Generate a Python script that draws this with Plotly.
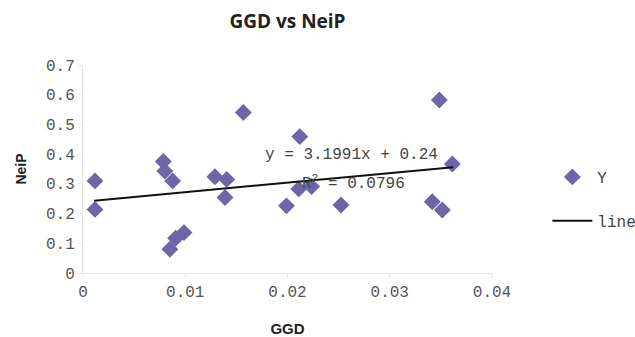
import plotly.graph_objects as go

ggd = [0.00117, 0.00117, 0.00785, 0.0080, 0.00877, 0.0085, 0.00906, 0.00988,
       0.0129, 0.01405, 0.01389, 0.01568, 0.0199, 0.0212, 0.0211, 0.02236,
       0.02523, 0.03416, 0.03485, 0.03514, 0.03612]
neip = [0.31, 0.214, 0.375, 0.343, 0.31, 0.08, 0.117, 0.136,
        0.324, 0.315, 0.254, 0.54, 0.226, 0.459, 0.283, 0.291,
        0.229, 0.24, 0.582, 0.212, 0.367]
slope = 3.1991
intercept = 0.24
r2 = 0.0796
line_x = [0.0011, 0.0362]
line_y = [slope * v + intercept for v in line_x]
x_ticks = [0, 0.01, 0.02, 0.03, 0.04]
x_ticktext = ["0", "0.01", "0.02", "0.03", "0.04"]
y_ticks = [0, 0.1, 0.2, 0.3, 0.4, 0.5, 0.6, 0.7]
y_ticktext = ["0", "0.1", "0.2", "0.3", "0.4", "0.5", "0.6", "0.7"]

mono = "Liberation Mono, Courier New, monospace"
sans = "Liberation Sans, Arial, sans-serif"
title_font = "Open Sans, Liberation Sans, sans-serif"

fig = go.Figure()
fig.add_trace(go.Scatter(x=ggd, y=neip, mode="markers", name="Y", legendgroup="a",
                         marker=dict(symbol="diamond", size=13, color="#6C66A8")))
fig.add_trace(go.Scatter(x=line_x, y=line_y, mode="lines", name="line", legendgroup="b",
                         line=dict(color="#111111", width=2)))

fig.add_annotation(x=0.0263, y=0.397, xref="x", yref="y", showarrow=False,
                   text=f"y = {slope}x + {intercept}", font=dict(family=mono, size=16, color="#444"))
fig.add_annotation(x=0.0265, y=0.306, xref="x", yref="y", showarrow=False,
                   text=f"R<sup>2</sup> = {r2}", font=dict(family=mono, size=16, color="#444"))

axis_common = dict(showgrid=False, zeroline=False, showline=True, linecolor="#e8e8e8", linewidth=1,
                   ticks="outside", ticklen=4, tickcolor="#e8e8e8", automargin=False,
                   tickfont=dict(family=mono, size=16, color="#555"))

fig.update_layout(
    width=635, height=337,
    margin=dict(l=83, r=143, t=65, b=64),
    paper_bgcolor="white", plot_bgcolor="white",
    title=dict(text="<b>GGD vs NeiP</b>", x=0.5, xanchor="center", xref="paper",
               y=1 - 21 / 337, yanchor="middle",
               font=dict(family=title_font, size=19, color="#222")),
    xaxis=dict(range=[0, 0.04], tickvals=x_ticks, ticktext=x_ticktext,
               title=dict(text="<b>GGD</b>", font=dict(family=sans, size=15, color="#222"), standoff=24),
               **axis_common),
    yaxis=dict(range=[0, 0.7], tickvals=y_ticks, ticktext=y_ticktext,
               title=dict(text="<b>NeiP</b>", font=dict(family=sans, size=14, color="#222"), standoff=16),
               **axis_common),
    legend=dict(xref="container", yref="container", x=0.862, y=1 - 160 / 337,
                xanchor="left", yanchor="top",
                font=dict(family=mono, size=16, color="#444"), tracegroupgap=20,
                itemwidth=40, bgcolor="rgba(0,0,0,0)"),
    showlegend=True,
)

fig.write_html("out.html", config={"displayModeBar": False},
               post_script="document.body.style.margin='0';")
